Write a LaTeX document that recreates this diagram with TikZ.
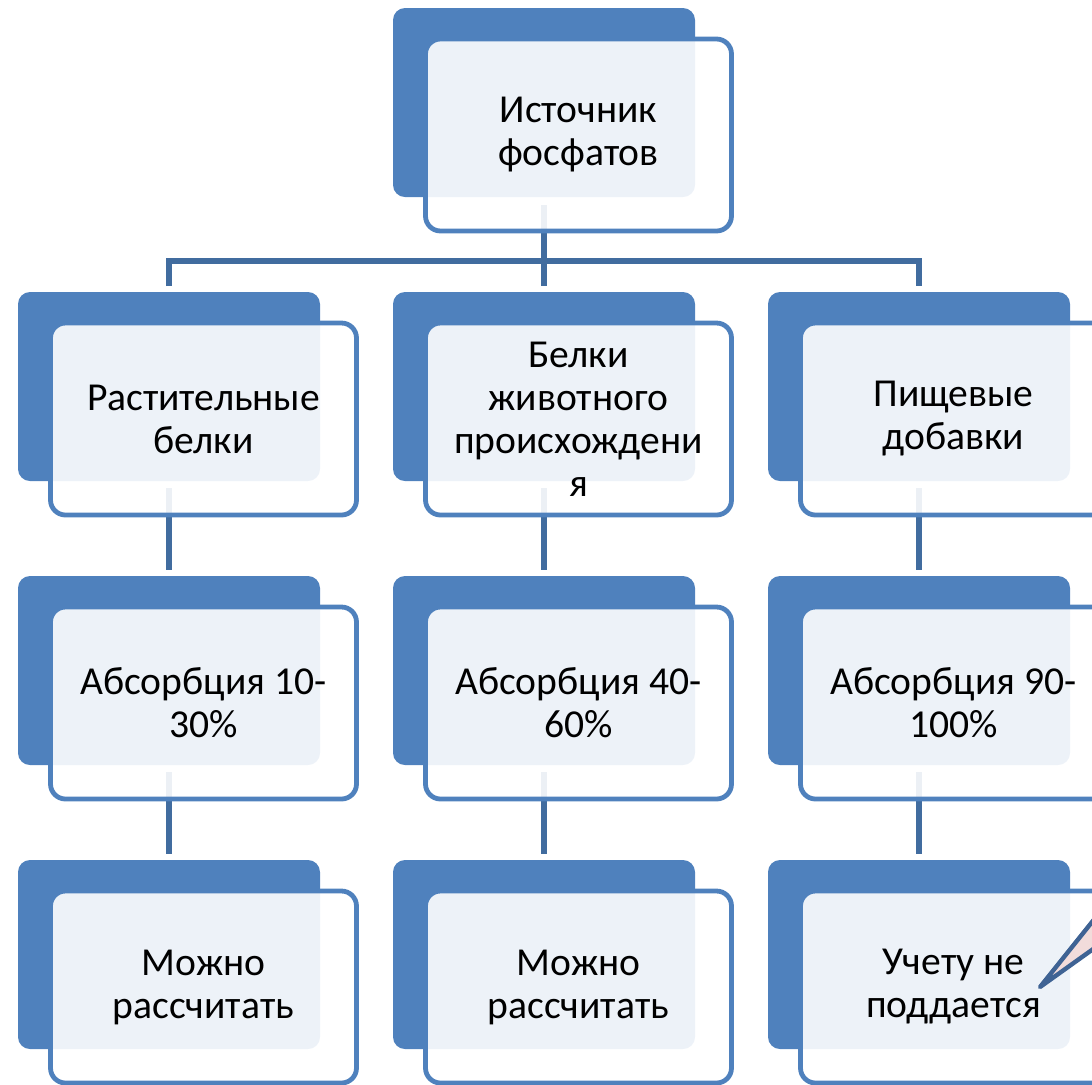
\documentclass[tikz,border=0pt]{standalone}
\usepackage{fontspec}
\setmainfont{Carlito}
\usepackage{tikz}
\usetikzlibrary{positioning,calc}
\usepackage{xcolor}
\definecolor{boxblue}{HTML}{4F81BD}
\definecolor{linkblue}{HTML}{416C9F}
\definecolor{notepink}{HTML}{F2DCDB}
\definecolor{noteedge}{HTML}{3F6394}

\begin{document}
\begin{tikzpicture}[
  x=0.5pt, y=-0.5pt,
  node distance=47.5pt and 36.5pt,
  back/.style={fill=boxblue, draw=none, rounded corners=6pt, outer sep=0pt,
               minimum width=151pt, minimum height=94.5pt},
  front/.style={draw=boxblue, line width=2.4pt, rounded corners=7.5pt,
                fill=white, fill opacity=0.9, text opacity=1,
                minimum width=153pt, minimum height=96pt, align=center,
                xshift=17.25pt, yshift=-16.25pt, inner xsep=2pt,
                font=\fontsize{19.8pt}{21.5pt}\selectfont},
  link/.style={draw=linkblue, line width=2.6pt}]
  \useasboundingbox (0,0) rectangle (1092,1084);
  % back plates
  \node[back] (src-b) at (544,102.5) {};
  \node[back, below=of src-b] (anim-b) {};
  \node[back, left=of anim-b] (veg-b) {};
  \node[back, right=of anim-b] (add-b) {};
  \node[back, below=of veg-b] (veg-abs-b) {};
  \node[back, below=of anim-b] (anim-abs-b) {};
  \node[back, below=of add-b] (add-abs-b) {};
  \node[back, below=of veg-abs-b] (veg-calc-b) {};
  \node[back, below=of anim-abs-b] (anim-calc-b) {};
  \node[back, below=of add-abs-b] (add-calc-b) {};
  % connectors
  \coordinate (bus) at ([yshift=-32pt]src-b.south);
  \draw[link] ([yshift=-4pt]src-b.south) -- ([yshift=3pt]anim-b.north);
  \draw[link] ([yshift=3pt]veg-b.north) |- (bus) -| ([yshift=3pt]add-b.north);
  \draw[link] ([yshift=-3.5pt]veg-b.south) -- ([yshift=3pt]veg-abs-b.north);
  \draw[link] ([yshift=-3.5pt]anim-b.south) -- ([yshift=3pt]anim-abs-b.north);
  \draw[link] ([yshift=-3.5pt]add-b.south) -- ([yshift=3pt]add-abs-b.north);
  \draw[link] ([yshift=-3.5pt]veg-abs-b.south) -- ([yshift=3pt]veg-calc-b.north);
  \draw[link] ([yshift=-3.5pt]anim-abs-b.south) -- ([yshift=3pt]anim-calc-b.north);
  \draw[link] ([yshift=-3.5pt]add-abs-b.south) -- ([yshift=3pt]add-calc-b.north);
  % front cards
  \node[front] (src) at (src-b) {Источник\\фосфатов};
  \node[front] (veg) at (veg-b) {Растительные\\белки};
  \node[front] (anim) at (anim-b) {Белки\\животного\\происхождени\\я};
  \node[front] (add) at (add-b) {Пищевые\\добавки};
  \node[front] (veg-abs) at (veg-abs-b) {Абсорбция 10-\\30\%};
  \node[front] (anim-abs) at (anim-abs-b) {Абсорбция 40-\\60\%};
  \node[front] (add-abs) at (add-abs-b) {Абсорбция 90-\\100\%};
  \node[front] (veg-calc) at (veg-calc-b) {Можно\\рассчитать};
  \node[front] (anim-calc) at (anim-calc-b) {Можно\\рассчитать};
  \node[front] (add-calc) at (add-calc-b) {Учету не\\поддается};
  % callout pointer
  \filldraw[fill=notepink, draw=noteedge, line width=2.2pt, line join=round]
    (1040,987) -- (1110,899.5) -- (1110,937) -- cycle;
\end{tikzpicture}
\end{document}
